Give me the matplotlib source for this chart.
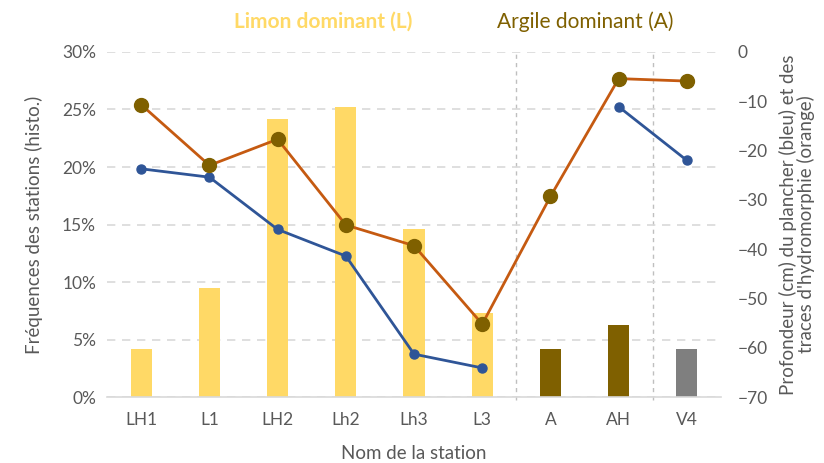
import numpy as np
import matplotlib
matplotlib.use("Agg")
import matplotlib.pyplot as plt
from matplotlib.ticker import FuncFormatter

stations = ["LH1", "L1", "LH2", "Lh2", "Lh3", "L3", "A", "AH", "V4"]
freq = [4.2, 9.5, 24.2, 25.2, 14.6, 7.3, 4.2, 6.3, 4.2]
bar_colors = ["#FFD966"] * 6 + ["#7F6000", "#7F6000", "#7F7F7F"]
plancher = [-23.7, -25.4, -36.0, -41.4, -61.3, -64.1, np.nan, -11.1, -22.0]
hydromorphie = [-10.7, -23.0, -17.7, -35.1, -39.3, -55.2, -29.3, -5.4, -5.9]
separators = [5.5, 7.5]

plt.rcParams['font.family'] = ['Lato', 'DejaVu Sans']
txt = "#595959"

fig = plt.figure(figsize=(8.24, 4.63), dpi=100)
ax = fig.add_axes([0.130, 0.1425, 0.745, 0.7452])
x = np.arange(len(stations))

ax.bar(x, freq, width=0.31, color=bar_colors, zorder=2)
ax.set_xlim(-0.5, len(stations) - 0.5)
ax.set_ylim(0, 30)
ax.set_yticks(np.arange(0, 31, 5))
ax.yaxis.set_major_formatter(FuncFormatter(lambda v, p: f"{v:.0f}%"))
ax.grid(axis='y', color="#D9D9D9", linestyle=(0, (5, 4)), linewidth=1.2, zorder=0)
for s in ["top", "right", "left"]:
    ax.spines[s].set_visible(False)
ax.spines["bottom"].set_color("#D9D9D9")
ax.spines["bottom"].set_linewidth(1.2)
ax.set_xticks(x)
ax.set_xticklabels(stations)
ax.tick_params(axis='both', length=0, labelsize=12.5, colors=txt, pad=8)
ax.tick_params(axis='x', pad=11)
for sx in separators:
    ax.axvline(sx, ymin=-0.01, ymax=1.0, color="#BFBFBF", linestyle=(0, (3, 3)),
               linewidth=1, zorder=1, clip_on=False)

ax.set_xlabel("Nom de la station", fontsize=13.5, color=txt, labelpad=12)
ax.set_ylabel("Fréquences des stations (histo.)", fontsize=13.5, color=txt, labelpad=14)

ax2 = ax.twinx()
ax2.set_ylim(-70, 0)
ax2.set_yticks(np.arange(-70, 1, 10))
ax2.plot(x, plancher, color="#2F5597", linewidth=2, marker='o', markersize=6.5,
         markerfacecolor="#2F5597", markeredgecolor="#2F5597", zorder=3)
ax2.plot(x, hydromorphie, color="#C55A11", linewidth=2, marker='o', markersize=10,
         markerfacecolor="#7F6000", markeredgecolor="#7F6000", zorder=4)
for s in ax2.spines.values():
    s.set_visible(False)
ax2.tick_params(axis='y', length=0, labelsize=12.5, colors=txt, pad=12)
ax2.set_ylabel("Profondeur (cm) du plancher (bleu) et des\ntraces d'hydromorphie (orange)",
               fontsize=13.5, color=txt, labelpad=8, linespacing=1.0)

fig.text(323 / 824, 1 - 22 / 463, "Limon dominant (L)", color="#FFD966", fontsize=15,
         fontweight='bold', ha='center', va='center')
fig.text(585 / 824, 1 - 22 / 463, "Argile dominant (A)", color="#7F6000", fontsize=15,
         ha='center', va='center')

fig.savefig("out.png", dpi=100)
